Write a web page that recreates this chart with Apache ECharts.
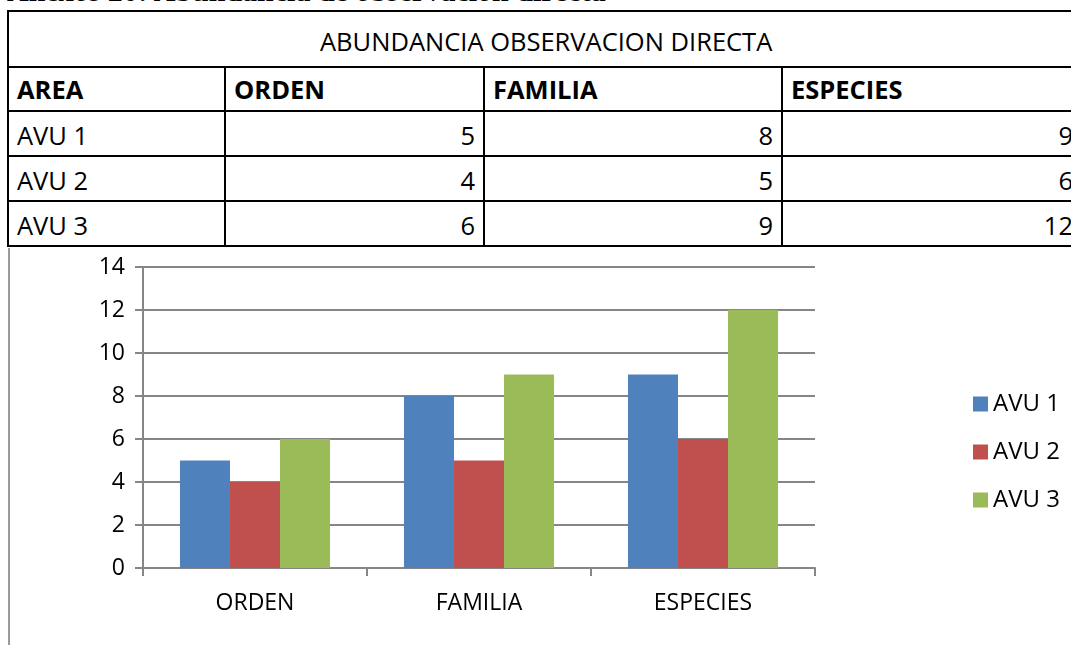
<!DOCTYPE html>
<html>
<head>
<meta charset="UTF-8">
<title>Abundancia observacion directa</title>
<style>
  body{margin:0;background:#fff;width:1071px;height:645px;overflow:hidden;position:relative;font-family:"Open Sans","Noto Sans",sans-serif;}
  #cap{position:absolute;left:7px;top:-26px;font:bold 30px/34px "Liberation Serif",serif;color:#000;white-space:nowrap;}
  #tb{position:absolute;left:7px;top:10px;border-collapse:collapse;table-layout:fixed;width:1120px;}
  #tb td{border:2px solid #000;font-size:25.5px;color:#000;padding:0 8px;height:41px;white-space:nowrap;overflow:hidden;box-sizing:border-box;}
  #tb td.num{text-align:right;}
  #tb tr.top td{height:56px;padding-top:4px;}
  #tb tr.head td{font-weight:bold;height:44px;}
  #tb tr.dat td{height:45px;padding-top:2px;}
  #main{position:absolute;left:0;top:250px;width:1071px;height:395px;}
  #frame{position:absolute;left:8px;top:248px;width:2px;height:397px;background:#9a9a9a;}
</style>
<script src="https://cdn.jsdelivr.net/npm/echarts@6/dist/echarts.min.js"></script>
</head>
<body>
<div id="cap">Anexos 20: Abundancia de observación directa</div>
<table id="tb"></table>
<div id="frame"></div>
<div id="main"></div>
<script>
var categorias = ['ORDEN', 'FAMILIA', 'ESPECIES'];
var areas = ['AVU 1', 'AVU 2', 'AVU 3'];
var avu1 = [5, 8, 9];
var avu2 = [4, 5, 6];
var avu3 = [6, 9, 12];
var colores = ['#4f81bd', '#c0504d', '#9bbb59'];

// tabla
var filas = [avu1, avu2, avu3];
var html = '<colgroup><col style="width:217px"><col style="width:259px"><col style="width:298px"><col style="width:346px"></colgroup>';
html += '<tr class="top"><td colspan="4" style="text-align:left;padding-left:311px">ABUNDANCIA OBSERVACION DIRECTA</td></tr>';
html += '<tr class="head"><td>AREA</td>';
for (var i = 0; i < categorias.length; i++) html += '<td>' + categorias[i] + '</td>';
html += '</tr>';
for (var r = 0; r < areas.length; r++) {
  html += '<tr class="dat"><td>' + areas[r] + '</td>';
  for (var c = 0; c < categorias.length; c++) {
    var pad = c == 2 ? ' style="padding-right:54px"' : '';
    html += '<td class="num"' + pad + '>' + filas[r][c] + '</td>';
  }
  html += '</tr>';
}
document.getElementById('tb').innerHTML = html;

// grafico
var myChart = echarts.init(document.getElementById('main'));
var series = [];
var datos = [avu1, avu2, avu3];
for (var s = 0; s < areas.length; s++) {
  series.push({
    name: areas[s],
    type: 'bar',
    data: datos[s],
    barGap: '0%',
    barCategoryGap: '33%',
    itemStyle: {color: colores[s]}
  });
}
myChart.setOption({
  animation: false,
  grid: {left: 143, top: 17, right: 256, bottom: 77},
  legend: {
    orient: 'vertical',
    left: 968,
    top: 137,
    itemWidth: 15,
    itemHeight: 15,
    itemGap: 24,
    icon: 'rect',
    textStyle: {fontSize: 24, lineHeight: 24, color: '#000', fontFamily: 'Open Sans'},
    data: areas
  },
  xAxis: {
    type: 'category',
    data: categorias,
    axisLine: {lineStyle: {color: '#868686', width: 2}},
    axisTick: {show: true, length: 8, lineStyle: {color: '#868686', width: 2}},
    axisLabel: {fontSize: 23, color: '#000', margin: 24, fontFamily: 'Open Sans'}
  },
  yAxis: {
    type: 'value',
    min: 0,
    max: 14,
    interval: 2,
    axisLine: {show: true, lineStyle: {color: '#868686', width: 2}},
    axisTick: {show: true, length: 8, lineStyle: {color: '#868686', width: 2}},
    splitLine: {lineStyle: {color: '#868686', width: 2}},
    axisLabel: {fontSize: 23, color: '#000', margin: 18, fontFamily: 'Open Sans'}
  },
  series: series
});
</script>
</body>
</html>
